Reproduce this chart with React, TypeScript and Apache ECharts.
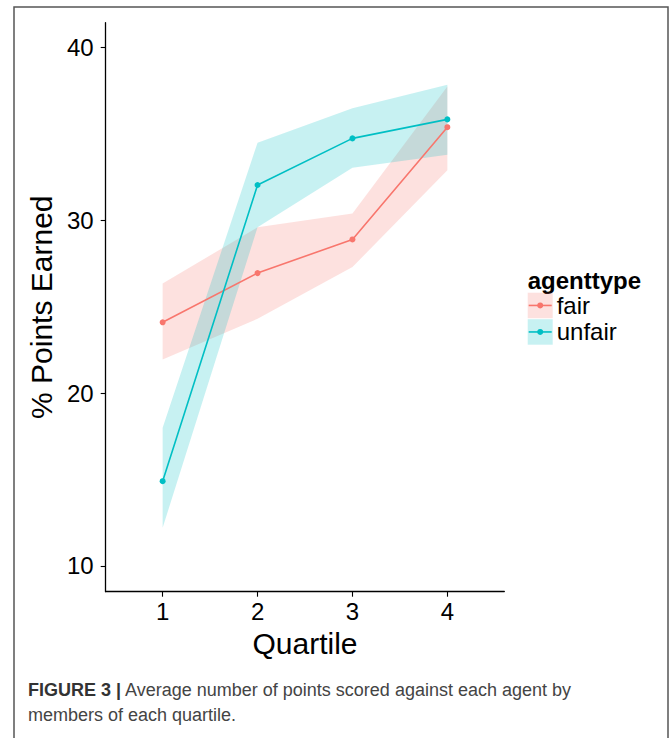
import React, { useEffect, useRef } from "react";
import * as echarts from "echarts";

const quartiles = [1, 2, 3, 4];
const fairMean = [24.1, 26.95, 28.9, 35.4];
const fairLower = [21.95, 24.3, 27.3, 32.9];
const fairUpper = [26.35, 29.6, 30.4, 37.75];
const unfairMean = [14.9, 32.05, 34.75, 35.85];
const unfairLower = [12.2, 29.6, 33.05, 33.8];
const unfairUpper = [18.0, 34.5, 36.5, 37.85];
const xTickValues = [1, 2, 3, 4];
const yTickValues = [10, 20, 30, 40];
const legendTitle = "agenttype";
const groupNames = ["fair", "unfair"];
const colors = ["#F8766D", "#00BFC4"];
const captionBold = "FIGURE 3 |";
const captionLine1 = " Average number of points scored against each agent by";
const captionLine2 = "members of each quartile.";

const FONT = "'Liberation Sans', Arial, Helvetica, sans-serif";
const BAND_ALPHA = 0.22;

function hexToRgba(hex: string, a: number) {
  const r = parseInt(hex.slice(1, 3), 16);
  const g = parseInt(hex.slice(3, 5), 16);
  const b = parseInt(hex.slice(5, 7), 16);
  return `rgba(${r},${g},${b},${a})`;
}

function bandSeries(name: string, lower: number[], upper: number[], color: string) {
  return {
    name: name + "_band",
    type: "custom",
    data: quartiles.map((q, i) => [q, lower[i], upper[i]]),
    encode: { x: 0, y: [1, 2] },
    silent: true,
    z: 1,
    renderItem: (params: any, api: any) => {
      if (params.dataIndex !== 0) return null;
      const top = quartiles.map((q, i) => api.coord([q, upper[i]]));
      const bottom = quartiles.map((q, i) => api.coord([q, lower[i]])).reverse();
      return {
        type: "polygon",
        shape: { points: top.concat(bottom) },
        style: { fill: hexToRgba(color, BAND_ALPHA), stroke: "none" },
      };
    },
  };
}

function meanSeries(name: string, mean: number[], color: string) {
  return {
    name,
    type: "line",
    data: quartiles.map((q, i) => [q, mean[i]]),
    symbol: "circle",
    symbolSize: 6,
    showSymbol: true,
    itemStyle: { color },
    lineStyle: { color, width: 1.6 },
    z: 3,
  };
}

export default function App() {
  const ref = useRef<HTMLDivElement>(null);
  useEffect(() => {
    if (!ref.current) return;
    const chart = echarts.init(ref.current, null, { renderer: "svg" });
    const legendX = 527.7;
    const keyW = 25;
    const keyH = 25.5;
    const keyY0 = 292.7;
    const legendGraphics: any[] = [];
    groupNames.forEach((g, i) => {
      const y = keyY0 + i * (keyH + 1);
      legendGraphics.push(
        {
          type: "rect",
          shape: { x: legendX, y, width: keyW, height: keyH },
          style: { fill: hexToRgba(colors[i], BAND_ALPHA) },
        },
        {
          type: "line",
          shape: { x1: legendX + 1, y1: y + keyH / 2, x2: legendX + keyW - 1, y2: y + keyH / 2 },
          style: { stroke: colors[i], lineWidth: 1.6 },
        },
        {
          type: "circle",
          shape: { cx: legendX + keyW / 2, cy: y + keyH / 2, r: 3 },
          style: { fill: colors[i] },
        },
        {
          type: "text",
          x: legendX + keyW + 4,
          y: y + keyH / 2,
          style: {
            text: g,
            fontFamily: FONT,
            fontSize: 24,
            fill: "#000",
            verticalAlign: "middle",
            align: "left",
          },
        }
      );
    });

    const option: any = {
      animation: false,
      backgroundColor: "#fff",
      grid: { left: 105.7, right: 167.7, top: 22.7, bottom: 146.3, containLabel: false },
      xAxis: {
        type: "value",
        min: 0.4,
        max: 4.6,
        name: "Quartile",
        nameLocation: "middle",
        nameGap: 22,
        nameTextStyle: { fontFamily: FONT, fontSize: 30, color: "#000" },
        axisLine: { show: true, onZero: false, lineStyle: { color: "#000", width: 1.3 } },
        axisTick: { show: true, length: 5, customValues: xTickValues, lineStyle: { color: "#000", width: 1.1 } },
        axisLabel: { customValues: xTickValues, fontFamily: FONT, fontSize: 24, color: "#000", margin: 8 },
        splitLine: { show: false },
      },
      yAxis: {
        type: "value",
        min: 8.5,
        max: 41.45,
        name: "% Points Earned",
        nameLocation: "middle",
        nameGap: 27,
        nameRotate: 90,
        nameTextStyle: { fontFamily: FONT, fontSize: 30, color: "#000" },
        axisLine: { show: true, onZero: false, lineStyle: { color: "#000", width: 1.3 } },
        axisTick: { show: true, length: 5, customValues: yTickValues, lineStyle: { color: "#000", width: 1.1 } },
        axisLabel: { customValues: yTickValues, fontFamily: FONT, fontSize: 24, color: "#000", margin: 12 },
        splitLine: { show: false },
      },
      series: [
        bandSeries("fair", fairLower, fairUpper, colors[0]),
        bandSeries("unfair", unfairLower, unfairUpper, colors[1]),
        meanSeries("fair", fairMean, colors[0]),
        meanSeries("unfair", unfairMean, colors[1]),
      ],
      graphic: [
        {
          type: "rect",
          shape: { x: 14, y: 7, width: 654, height: 760 },
          style: { fill: "none", stroke: "#555", lineWidth: 1.5 },
          silent: true,
        },
        {
          type: "text",
          x: legendX,
          y: 280,
          style: {
            text: legendTitle,
            fontFamily: FONT,
            fontSize: 24,
            fontWeight: "bold",
            fill: "#000",
            verticalAlign: "middle",
            align: "left",
          },
        },
        ...legendGraphics,
        {
          type: "text",
          x: 28,
          y: 690,
          style: {
            text: "{b|" + captionBold + "}" + captionLine1,
            fontFamily: FONT,
            fontSize: 18,
            fill: "#444",
            verticalAlign: "middle",
            align: "left",
            rich: {
              b: { fontFamily: FONT, fontSize: 18, fontWeight: "bold", fill: "#333", color: "#333" },
            },
          },
        },
        {
          type: "text",
          x: 28,
          y: 715,
          style: {
            text: captionLine2,
            fontFamily: FONT,
            fontSize: 18,
            fill: "#444",
            verticalAlign: "middle",
            align: "left",
          },
        },
      ],
    };
    chart.setOption(option);
    return () => chart.dispose();
  }, []);
  return (
    <div
      ref={ref}
      style={{ position: "absolute", left: 0, top: 0, width: 672, height: 738 }}
    />
  );
}
